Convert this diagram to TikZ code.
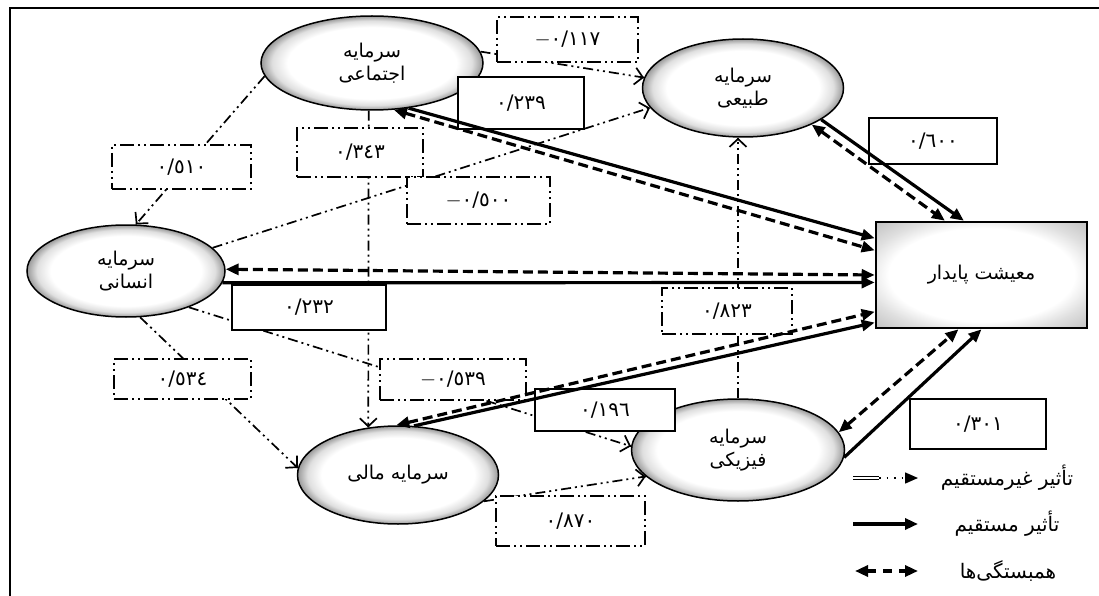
\documentclass[tikz,border=0pt]{standalone}
\usepackage{fontspec}
\newfontfamily\arabicfont[Script=Arabic]{DejaVu Sans}
\TeXXeTstate=1
\usetikzlibrary{arrows.meta,shapes.geometric,decorations.markings}

\newcommand{\rtltext}[1]{\beginR#1\endR}

\pgfdeclareradialshading{ovalshade}{\pgfpoint{0bp}{0bp}}{color(0bp)=(white); color(19bp)=(white); color(22.5bp)=(gray!25); color(25bp)=(gray!80); color(50bp)=(gray!80)}
\pgfdeclareradialshading{boxshade}{\pgfpoint{0bp}{0bp}}{color(0bp)=(white); color(22bp)=(white); color(28bp)=(gray!25); color(36bp)=(gray!50); color(50bp)=(gray!50)}

\tikzset{
  capital/.style={ellipse, draw, line width=1.5pt, shade, shading=ovalshade, align=center, inner sep=0pt, font=\arabicfont\fontsize{19}{23}\selectfont},
  goal/.style={rectangle, draw, line width=2.6pt, shade, shading=boxshade, align=center, inner sep=0pt, font=\arabicfont\fontsize{19}{23}\selectfont},
  coef/.style={rectangle, draw, line width=1.4pt, fill=white, inner sep=0pt, font=\arabicfont\fontsize{20}{22}\selectfont},
  coefdash/.style={coef, line width=2.2pt, dash pattern=on 14pt off 4pt on 2pt off 4pt on 2pt off 4pt},
  indirect/.style={line width=1.7pt, dash pattern=on 10pt off 4pt on 2pt off 4pt on 2pt off 4pt,
    postaction={decorate}, decoration={markings, mark=at position 1 with {\pgfsetdash{}{0pt}\arrow{Straight Barb[length=8pt,width=17pt]}}}},
  direct/.style={line width=3.2pt, -{Triangle[length=13pt,width=11pt]}},
  corr/.style={line width=3.2pt, dash pattern=on 10pt off 5pt, {Triangle[length=13pt,width=11pt]}-{Triangle[length=13pt,width=11pt]}},
  keytext/.style={font=\arabicfont\fontsize{20}{22}\selectfont},
}

\begin{document}
\begin{tikzpicture}[x=1pt, y=-1pt]
    \useasboundingbox (0, 0) rectangle (1099, 596);
    \draw[line width=1.6pt] (10, 596) |- (1099, 8);

    % Nodes
    \node[capital, minimum width=222pt, minimum height=94pt] at (372, 63) (social) {\rtltext{سرمایه}\\\rtltext{اجتماعی}};
    \node[capital, minimum width=201pt, minimum height=98pt] at (743, 88) (natural) {\rtltext{سرمایه}\\\rtltext{طبیعی}};
    \node[capital, minimum width=198pt, minimum height=92pt] at (126, 271) (human) {\rtltext{سرمایه}\\\rtltext{انسانی}};
    \node[capital, minimum width=201pt, minimum height=98pt] at (398, 475) (financial) {\rtltext{سرمایه مالی}};
    \node[capital, minimum width=213pt, minimum height=102pt] at (738, 450) (physical) {\rtltext{سرمایه}\\\rtltext{فیزیکی}};
    \node[goal, minimum width=211pt, minimum height=106pt] at (981.5, 275) (living) {\rtltext{معیشت پایدار}};

    % indirect effects
    \draw[indirect] (social.6) -- (natural.174);
    \draw[indirect] (human.15) -- (natural.192);
    \draw[indirect] (social.187) -- (human.78);
    \draw[indirect] (social.-94) -- (financial.122);
    \draw[indirect] (human.-73) -- (financial.176);
    \draw[indirect] (human.-30) -- (physical.178);
    \draw[indirect] (financial.-17) -- (physical.196);
    \draw[indirect] (physical.north) -- (physical.north |- natural.south);

    % coefficients
    \node[coefdash, minimum width=141pt, minimum height=45pt] at (567.5, 39.5) (v117) {$-$٠/١١٧};
    \node[coef, minimum width=126pt, minimum height=52pt] at (521, 103) (v239) {٠/٢٣٩};
    \node[coefdash, minimum width=126pt, minimum height=49pt] at (360, 152.5) (v343) {٠/٣٤٣};
    \node[coefdash, minimum width=139pt, minimum height=44pt] at (181.5, 167) (v510) {٠/٥١٠};
    \node[coefdash, minimum width=143pt, minimum height=47pt] at (478.5, 200.5) (v500) {$-$٠/٥٠٠};
    \node[coef, minimum width=128pt, minimum height=46pt] at (933, 141) (v600) {٠/٦٠٠};
    \node[coef, minimum width=154pt, minimum height=45pt] at (309, 307.5) (v232) {٠/٢٣٢};
    \node[coefdash, minimum width=130pt, minimum height=46pt] at (727, 311) (v823) {٠/٨٢٣};
    \node[coefdash, minimum width=137pt, minimum height=40pt] at (182.5, 379) (v534) {٠/٥٣٤};
    \node[coefdash, minimum width=146pt, minimum height=41pt] at (453, 379.5) (v539) {$-$٠/٥٣٩};
    \node[coef, minimum width=140pt, minimum height=42pt] at (605, 410) (v196) {٠/١٩٦};
    \node[coefdash, minimum width=149pt, minimum height=50pt] at (570.5, 521) (v870) {٠/٨٧٠};
    \node[coef, minimum width=136pt, minimum height=50pt] at (978, 424) (v301) {٠/٣٠١};

    % direct effects and correlations
    \draw[direct] (social.-51) -- (living.161);
    \draw[corr] (social.-65) -- (living.167);
    \draw[direct] (human.-7) -- (living.184);
    \draw[corr] (human.1) -- (living.180);
    \draw[direct] (natural.-22) -- (living.108);
    \draw[corr] (natural.-28) -- (living.124);
    \draw[direct] (financial.72) -- (living.204);
    \draw[corr] (financial.92) -- (living.199);
    \draw[direct] (physical.-4) -- (living.-90);
    \draw[corr] (physical.10) -- (living.-113);

    % legend
    \coordinate (keyA1) at (853, 478);
    \coordinate (keyA2) at (879, 478);
    \coordinate (keyA3) at (918, 478);
    \coordinate (keyB1) at (853, 524);
    \coordinate (keyB2) at (918, 524);
    \coordinate (keyC1) at (855, 571);
    \coordinate (keyC2) at (918, 571);
    \draw[double, double distance=2pt, line width=0.6pt] (keyA1) -- (keyA2);
    \draw[line width=1.5pt, dash pattern=on 1.5pt off 6pt, -{Triangle[length=13pt,width=11pt]}] (keyA2) -- (keyA3);
    \draw[direct] (keyB1) -- (keyB2);
    \draw[corr, dash pattern=on 9pt off 7pt] (keyC1) -- (keyC2);
    \node[keytext] at (1007, 478) (keyA) {\rtltext{تأثیر غیرمستقیم}};
    \node[keytext] at (1007, 524) (keyB) {\rtltext{تأثیر مستقیم}};
    \node[keytext] at (1008, 571) (keyC) {\rtltext{همبستگی‌ها}};

  \end{tikzpicture}
\end{document}
